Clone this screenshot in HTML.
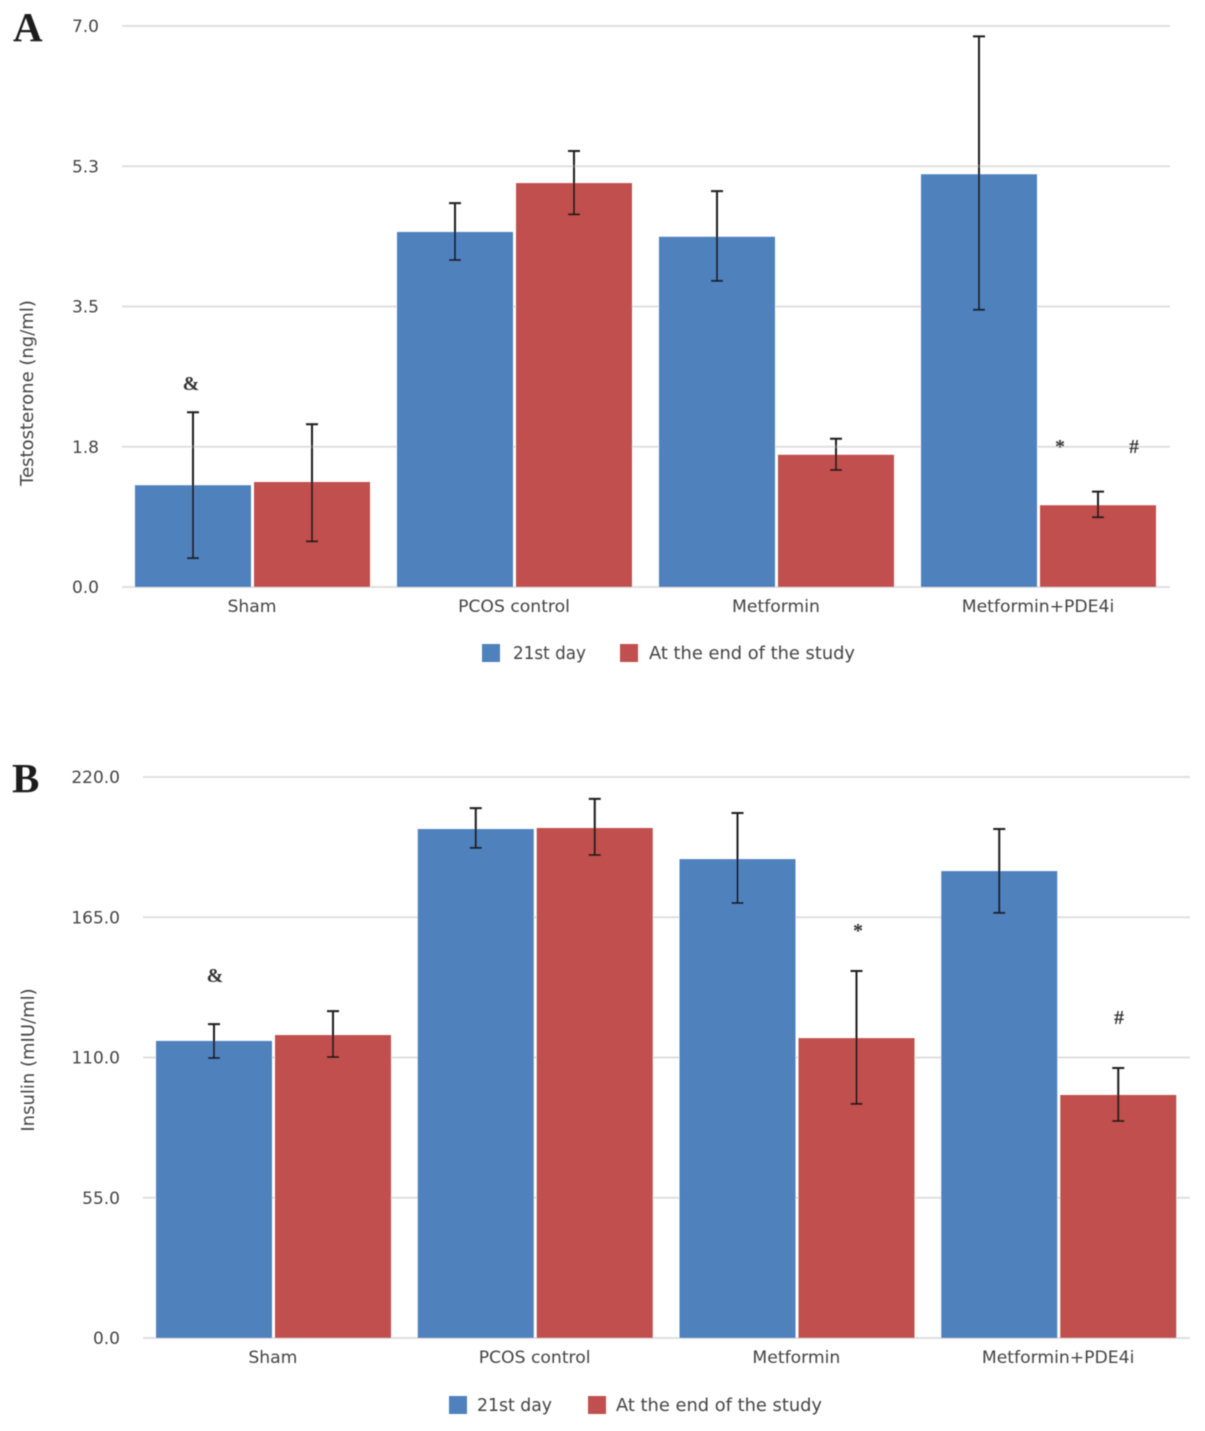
<!DOCTYPE html>
<html>
<head>
<meta charset="utf-8">
<title>Testosterone and insulin bar charts</title>
<style>
html,body{margin:0;padding:0;background:#fff;}
svg{display:block;}
text{font-family:"DejaVu Sans","Liberation Sans",sans-serif;fill:#444;}
.panel{font-family:"Liberation Serif",serif;font-weight:bold;fill:#1a1a1a;font-size:41px;}
.mark{font-family:"Liberation Serif",serif;font-weight:bold;fill:#333;font-size:20px;text-anchor:middle;}
</style>
</head>
<body>
<svg id="chart" width="1205" height="1431" viewBox="0 0 1205 1431" xmlns="http://www.w3.org/2000/svg">
  <defs><filter id="soft" x="0" y="0" width="100%" height="100%"><feGaussianBlur stdDeviation="0.6"/></filter></defs>
  <g id="root" filter="url(#soft)">
    <text class="panel" x="13" y="41">A</text>
    <text class="panel" x="12" y="792">B</text>
    <g id="panelA"></g>
    <g id="panelB"></g>
    <text class="mark" x="191" y="390">&amp;</text>
    <text class="mark" x="1060" y="453">*</text>
    <text class="mark" x="1134" y="453">#</text>
    <text class="mark" x="215" y="982">&amp;</text>
    <text class="mark" x="858" y="937">*</text>
    <text class="mark" x="1119" y="1024">#</text>
  </g>
</svg>
<script>
const categories = ['Sham', 'PCOS control', 'Metformin', 'Metformin+PDE4i'];
const seriesNames = ['21st day', 'At the end of the study'];
const seriesColors = ['#4f81bd', '#c0504d'];

const testosteroneTicks = [0, 1.75, 3.5, 5.25, 7];
const testosteroneTickLabels = ['0.0', '1.8', '3.5', '5.3', '7.0'];
const testosteroneDay21 = [1.27, 4.43, 4.37, 5.15];
const testosteroneEnd = [1.31, 5.04, 1.65, 1.02];
const testosteroneDay21High = [2.18, 4.79, 4.94, 6.87];
const testosteroneDay21Low = [0.36, 4.08, 3.82, 3.46];
const testosteroneEndHigh = [2.03, 5.44, 1.85, 1.19];
const testosteroneEndLow = [0.57, 4.65, 1.46, 0.87];

const insulinTicks = [0, 55, 110, 165, 220];
const insulinTickLabels = ['0.0', '55.0', '110.0', '165.0', '220.0'];
const insulinDay21 = [116.5, 199.6, 187.8, 183.1];
const insulinEnd = [118.8, 200, 117.6, 95.3];
const insulinDay21High = [123.1, 207.8, 205.9, 199.6];
const insulinDay21Low = [109.8, 192.2, 170.6, 166.7];
const insulinEndHigh = [128.2, 211.4, 143.9, 105.9];
const insulinEndLow = [110.2, 189.4, 91.8, 85.1];

const NS = 'http://www.w3.org/2000/svg';
function mk(parent, tag, attrs, txt) {
  const el = document.createElementNS(NS, tag);
  for (const k in attrs) el.setAttribute(k, attrs[k]);
  if (txt !== undefined) el.textContent = txt;
  parent.appendChild(el);
  return el;
}

function drawChart(g, o) {
  const yMax = o.ticks[o.ticks.length - 1];
  const y = v => o.bottom - (v / yMax) * (o.bottom - o.top);
  const step = (o.right - o.left) / categories.length;
  const barW = 116, inset = 13, gap = 3;
  const x = (c, s) => o.left + c * step + inset + s * (barW + gap);

  o.ticks.forEach((t, i) => {
    const line = mk(g, 'rect', { x: o.left, y: y(t) - 1, width: o.right - o.left, height: 2, fill: '#e0e0e0' });
    
    
    const lab = mk(g, 'text', { x: o.tickRight, y: y(t) + 6, 'text-anchor': 'end', 'font-size': 17 }, o.tickLabels[i]);
    
    
  });

  o.values.forEach((vals, s) => {
    vals.forEach((v, c) => {
      const bar = mk(g, 'rect', { x: x(c, s), y: y(v), width: barW, height: o.bottom - y(v), fill: seriesColors[s] });
      
      
    });
  });

  o.values.forEach((vals, s) => {
    vals.forEach((v, c) => {
      const cx = x(c, s) + barW / 2;
      const hi = y(o.high[s][c]), lo = y(o.low[s][c]);
      const err = mk(g, 'path', {
        d: `M${cx} ${hi}V${lo}M${cx - 6} ${hi}H${cx + 6}M${cx - 6} ${lo}H${cx + 6}`,
        stroke: '#1c1c1c', 'stroke-width': 2, fill: 'none'
      });
      
      
    });
  });

  categories.forEach((name, c) => {
    const lab = mk(g, 'text', { x: o.left + (c + 0.5) * step - 1, y: o.bottom + 25, 'text-anchor': 'middle', 'font-size': 17.2 }, name);
    
    
  });

  const title = mk(g, 'text', {
    x: 0, y: 0, 'text-anchor': 'middle', 'font-size': 18,
    transform: `translate(${o.titleX},${o.titleY}) rotate(-90)`
  }, o.title);
  
  

  seriesNames.forEach((name, s) => {
    const sw = mk(g, 'rect', { x: o.legendSwatchX[s], y: o.legendY, width: 18, height: 18, fill: seriesColors[s] });
    
    
    const lab = mk(g, 'text', { x: o.legendTextX[s], y: o.legendY + 15, 'font-size': 17.5, textLength: o.legendTextW[s], lengthAdjust: 'spacingAndGlyphs' }, name);
    
    
  });
}

drawChart(document.getElementById('panelA'), {
  left: 122, right: 1170, top: 26, bottom: 587, tickRight: 99,
  ticks: testosteroneTicks, tickLabels: testosteroneTickLabels,
  values: [testosteroneDay21, testosteroneEnd],
  high: [testosteroneDay21High, testosteroneEndHigh],
  low: [testosteroneDay21Low, testosteroneEndLow],
  title: 'Testosterone (ng/ml)', titleX: 33, titleY: 393,
  legendSwatchX: [482, 620], legendTextX: [513, 649], legendTextW: [73, 206], legendY: 644
});

drawChart(document.getElementById('panelB'), {
  left: 143, right: 1190, top: 777, bottom: 1338, tickRight: 120,
  ticks: insulinTicks, tickLabels: insulinTickLabels,
  values: [insulinDay21, insulinEnd],
  high: [insulinDay21High, insulinEndHigh],
  low: [insulinDay21Low, insulinEndLow],
  title: 'Insulin (mIU/ml)', titleX: 34, titleY: 1060,
  legendSwatchX: [449, 588], legendTextX: [477, 616], legendTextW: [75, 206], legendY: 1396
});
</script>
</body>
</html>
